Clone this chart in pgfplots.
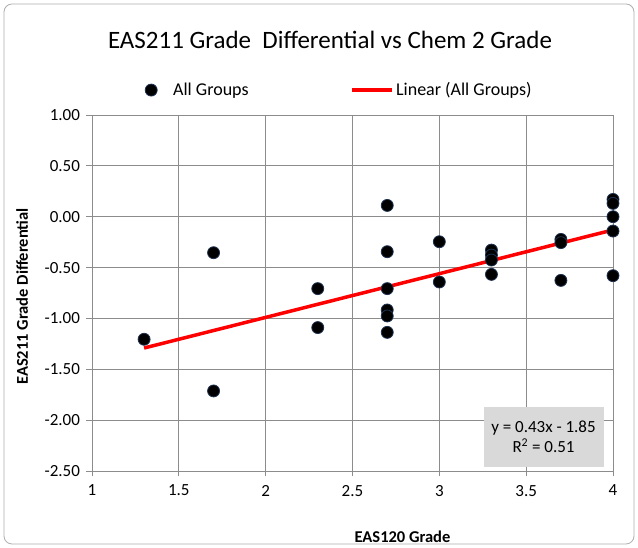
\documentclass[border=0pt]{standalone}
\usepackage{fontspec}
\setmainfont{Carlito}
\usepackage{pgfplots}
\pgfplotsset{compat=1.18}
\definecolor{gridgray}{RGB}{140,140,140}
\definecolor{dotedge}{RGB}{30,50,80}
\definecolor{boxgray}{RGB}{217,217,217}
\begin{document}
\begin{tikzpicture}[x=1pt,y=1pt]
\path[use as bounding box] (-92,-77) rectangle (546,471);
\draw[gridgray!70, rounded corners=8pt, line width=0.8pt] (-88,-73) rectangle (542,467);
\begin{axis}[
  at={(0,0)}, anchor=south west,
  width=521pt, height=356pt, scale only axis,
  xmin=1, xmax=4, ymin=-2.5, ymax=1,
  xtick={1,1.5,2,2.5,3,3.5,4},
  xticklabels={1,1.5,2,2.5,3,3.5,4},
  ytick={-2.5,-2,-1.5,-1,-0.5,0,0.5,1},
  yticklabels={-2.50,-2.00,-1.50,-1.00,-0.50,0.00,0.50,1.00},
  grid=major,
  grid style={gridgray, line width=0.8pt},
  axis line style={gridgray, line width=0.8pt},
  axis x line*=bottom, axis y line*=left,
  tick style={gridgray, line width=0.8pt},
  tick align=center, major tick length=11pt,
  tick label style={font=\fontsize{17}{20}\selectfont},
  xticklabel style={yshift=-5pt},
  yticklabel style={xshift=-3pt},
  xlabel={\bfseries EAS120 Grade},
  ylabel={\bfseries EAS211 Grade Differential},
  label style={font=\fontsize{16.5}{19}\selectfont},
  xlabel style={at={(axis description cs:0.5,0)}, anchor=center, yshift=-66pt, xshift=50pt},
  ylabel style={at={(axis description cs:-0.134,0.49)}, anchor=center},
  title={EAS211 Grade\ \ Differential vs Chem 2 Grade},
  title style={font=\fontsize{25}{30}\selectfont, at={(238pt,425pt)}, anchor=center},
  legend columns=2,
  legend style={draw=none, fill=none, at={(0,1.07)}, anchor=west, xshift=50pt,
    font=\fontsize{18}{21}\selectfont,
    /tikz/every even column/.append style={column sep=100pt}},
  clip=false,
]
\addplot[only marks, mark=*, mark size=6pt, mark options={fill=black, draw=dotedge, line width=0.8pt}]
coordinates {
(1.3,-1.205)
(1.7,-0.354) (1.7,-1.713)
(2.3,-0.707) (2.3,-1.09)
(2.7,0.111) (2.7,-0.344) (2.7,-0.707) (2.7,-0.917) (2.7,-0.976) (2.7,-1.137)
(3.0,-0.246) (3.0,-0.642)
(3.3,-0.328) (3.3,-0.377) (3.3,-0.426) (3.3,-0.567)
(3.7,-0.223) (3.7,-0.255) (3.7,-0.626)
(4.0,0.170) (4.0,0.131) (4.0,0) (4.0,-0.141) (4.0,-0.58)
};
\addlegendentry{\hspace{14pt}All Groups}
\addplot[red, line width=3.5pt, legend image code/.code={\draw[red, line width=3.5pt] (-8pt,0pt) -- (32pt,0pt);}] coordinates {(1.3,-1.291) (4,-0.13)};
\addlegendentry{Linear (All Groups)}
\node[fill=boxgray, minimum width=120pt, minimum height=60pt, align=center,
  font=\fontsize{17}{20}\selectfont, inner sep=0pt] at (axis cs:3.6,-2.165)
  {y = 0.43x - 1.85\\R\textsuperscript{2} = 0.51};
\end{axis}
\end{tikzpicture}
\end{document}
